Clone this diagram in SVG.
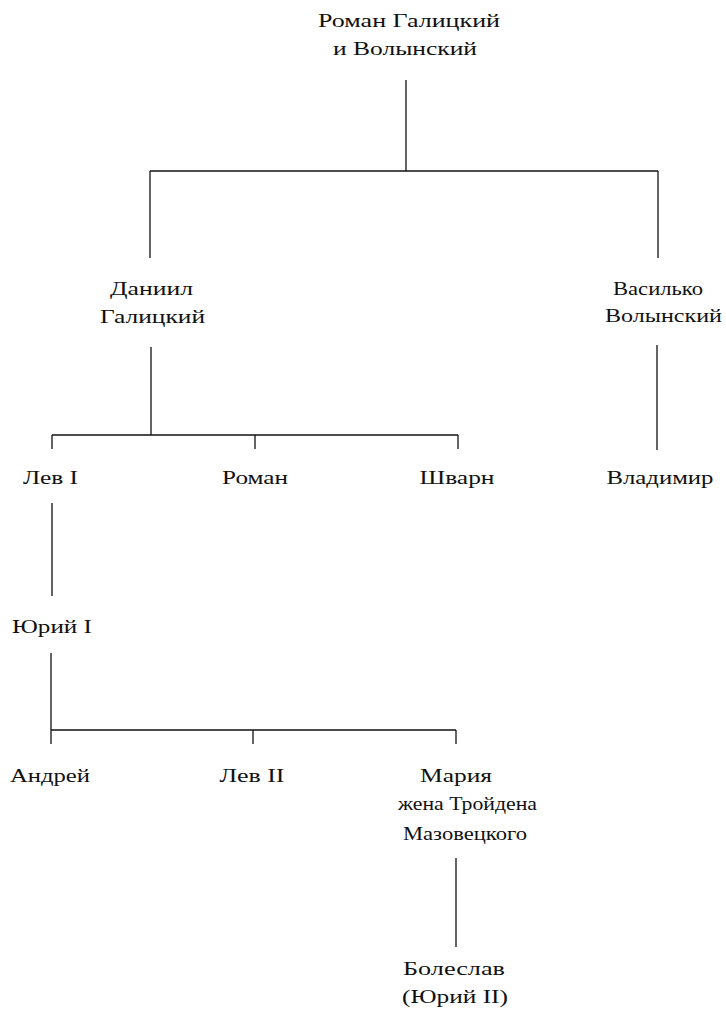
<svg xmlns="http://www.w3.org/2000/svg" width="726" height="1015" viewBox="0 0 726 1015">
<style>
text{font-family:"Liberation Serif","Times New Roman",serif;font-size:19.5px;fill:#111;text-anchor:middle}
.c line{stroke:#111;stroke-width:1.3}
</style>
<rect width="726" height="1015" fill="#fff"/>
<g class="c" id="connectors">
<line x1="406" y1="80" x2="406" y2="171"/>
<line x1="150" y1="171" x2="658" y2="171"/>
<line x1="150" y1="171" x2="150" y2="258"/>
<line x1="658" y1="171" x2="658" y2="258"/>
<line x1="151" y1="347" x2="151" y2="435"/>
<line x1="52" y1="435" x2="458" y2="435"/>
<line x1="52" y1="435" x2="52" y2="449"/>
<line x1="255" y1="435" x2="255" y2="449"/>
<line x1="458" y1="435" x2="458" y2="449"/>
<line x1="657" y1="345" x2="657" y2="450"/>
<line x1="52" y1="503" x2="52" y2="596"/>
<line x1="51" y1="653" x2="51" y2="744"/>
<line x1="51" y1="730" x2="456" y2="730"/>
<line x1="253" y1="730" x2="253" y2="744"/>
<line x1="456" y1="730" x2="456" y2="744"/>
<line x1="456" y1="858" x2="456" y2="947"/>
</g>
<g id="roman"><text x="409" y="27" textLength="182" lengthAdjust="spacingAndGlyphs">Роман Галицкий</text><text x="405" y="55" textLength="144" lengthAdjust="spacingAndGlyphs">и Волынский</text></g>
<g id="daniil"><text x="151.5" y="295" textLength="83" lengthAdjust="spacingAndGlyphs">Даниил</text><text x="152.5" y="323" textLength="105" lengthAdjust="spacingAndGlyphs">Галицкий</text></g>
<g id="vasilko"><text x="658" y="295" textLength="90" lengthAdjust="spacingAndGlyphs">Василько</text><text x="663.5" y="322" textLength="117" lengthAdjust="spacingAndGlyphs">Волынский</text></g>
<g id="lev1"><text x="50.5" y="484" textLength="55" lengthAdjust="spacingAndGlyphs">Лев I</text></g>
<g id="roman2"><text x="255" y="484" textLength="66" lengthAdjust="spacingAndGlyphs">Роман</text></g>
<g id="shvarn"><text x="457" y="484" textLength="75" lengthAdjust="spacingAndGlyphs">Шварн</text></g>
<g id="vladimir"><text x="660" y="484" textLength="107" lengthAdjust="spacingAndGlyphs">Владимир</text></g>
<g id="yuri1"><text x="52" y="633" textLength="80" lengthAdjust="spacingAndGlyphs">Юрий I</text></g>
<g id="andrei"><text x="50" y="782" textLength="80" lengthAdjust="spacingAndGlyphs">Андрей</text></g>
<g id="lev2"><text x="252" y="782" textLength="65" lengthAdjust="spacingAndGlyphs">Лев II</text></g>
<g id="maria"><text x="456" y="782" textLength="72" lengthAdjust="spacingAndGlyphs">Мария</text><text x="467.5" y="810" textLength="139" lengthAdjust="spacingAndGlyphs">жена Тройдена</text><text x="465" y="840" textLength="124" lengthAdjust="spacingAndGlyphs">Мазовецкого</text></g>
<g id="boleslav"><text x="454" y="975" textLength="102" lengthAdjust="spacingAndGlyphs">Болеслав</text><text x="455" y="1003" textLength="106" lengthAdjust="spacingAndGlyphs">(Юрий II)</text></g>
</svg>
